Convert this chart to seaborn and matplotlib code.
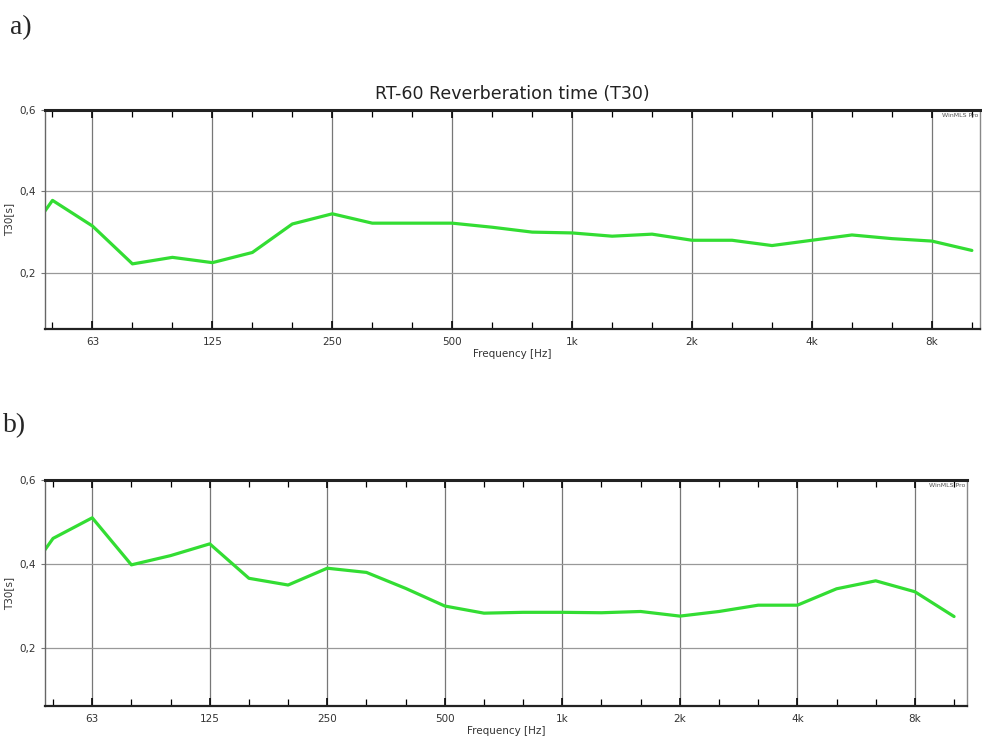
import numpy as np
import pandas as pd
import matplotlib
matplotlib.use("Agg")
import matplotlib.pyplot as plt
import matplotlib.ticker as mticker
import seaborn as sns

# third-octave bands, 40 Hz .. 10 kHz
band_labels = ["40", "50", "63", "80", "100", "125", "160", "200", "250", "315",
               "400", "500", "630", "800", "1k", "1.25k", "1.6k", "2k", "2.5k",
               "3.15k", "4k", "5k", "6.3k", "8k", "10k"]
band_index = list(range(-14, 11))  # band number relative to 1 kHz

# T30 [s]
t30_a = [0.24, 0.378, 0.315, 0.222, 0.238, 0.225, 0.25, 0.32, 0.345, 0.322,
         0.322, 0.322, 0.312, 0.300, 0.298, 0.290, 0.295, 0.280, 0.280,
         0.267, 0.280, 0.293, 0.284, 0.278, 0.255]
t30_b = [0.33, 0.461, 0.51, 0.398, 0.42, 0.448, 0.366, 0.35, 0.39, 0.38,
         0.342, 0.30, 0.283, 0.285, 0.285, 0.284, 0.287, 0.276, 0.287,
         0.302, 0.302, 0.341, 0.36, 0.334, 0.275]

octave_labels = ["63", "125", "250", "500", "1k", "2k", "4k", "8k"]
octave_index = [-12, -9, -6, -3, 0, 3, 6, 9]

freqs = [1000 * 10 ** (n / 10) for n in band_index]
octave_freqs = [1000 * 10 ** (n / 10) for n in octave_index]

df_a = pd.DataFrame({"freq": freqs, "t30": t30_a})
df_b = pd.DataFrame({"freq": freqs, "t30": t30_b})

sns.set_style("white")
plt.rcParams["font.family"] = ["DejaVu Sans"]

fig = plt.figure(figsize=(9.82, 7.46), dpi=100)
ax_a = fig.add_axes([45 / 982, 1 - 329 / 746, 935 / 982, 219 / 746])
ax_b = fig.add_axes([45 / 982, 1 - 706 / 746, 922 / 982, 226 / 746])

green = "#33dd33"


def style_axes(ax, df, xlim, ylabel):
    sns.lineplot(data=df, x="freq", y="t30", ax=ax, color=green, linewidth=2.3)
    ax.set_xscale("log")
    ax.set_xlim(*xlim)
    ax.set_ylim(0.062, 0.6)
    ax.set_xticks(octave_freqs)
    ax.set_xticklabels(octave_labels)
    ax.xaxis.set_minor_locator(mticker.FixedLocator(freqs))
    ax.xaxis.set_minor_formatter(mticker.NullFormatter())
    ax.set_yticks([0.2, 0.4, 0.6])
    ax.set_yticklabels(["0,2", "0,4", "0,6"])
    ax.tick_params(axis="x", which="both", direction="in", top=True, bottom=True,
                   labelsize=7.5, color="black", pad=6, labelcolor="#333333")
    ax.tick_params(axis="x", which="major", length=6, width=1.2)
    ax.tick_params(axis="x", which="minor", length=5, width=0.9)
    ax.tick_params(axis="y", which="major", direction="out", left=True,
                   length=3, labelsize=7.5, color="#777777", labelcolor="#333333")
    for f in octave_freqs:
        ax.axvline(f, color="#777777", linewidth=0.9, zorder=0)
    for v in [0.2, 0.4]:
        ax.axhline(v, color="#999999", linewidth=0.9, zorder=0)
    ax.spines["top"].set_linewidth(2.2)
    ax.spines["top"].set_color("#222222")
    ax.spines["bottom"].set_linewidth(1.6)
    ax.spines["bottom"].set_color("#222222")
    ax.spines["left"].set_linewidth(1.0)
    ax.spines["left"].set_color("#666666")
    ax.spines["right"].set_linewidth(1.0)
    ax.spines["right"].set_color("#888888")
    ax.set_xlabel("Frequency [Hz]", fontsize=7.5, labelpad=1, color="#333333")
    ax.set_ylabel(ylabel, fontsize=7.5, labelpad=4, color="#333333")
    ax.text(0.998, 0.985, "WinMLS Pro", transform=ax.transAxes, ha="right",
            va="top", fontsize=4.5, color="#555555")


style_axes(ax_a, df_a, (48.0, 10480), "T30[s]")
style_axes(ax_b, df_b, (47.8, 10790), "T30[s]")

ax_a.set_title("RT-60 Reverberation time (T30)", fontsize=12.5, pad=8, color="#222222")

fig.text(10 / 982, 1 - 34 / 746, "a)", fontsize=20, family="Liberation Serif")
fig.text(3 / 982, 1 - 432 / 746, "b)", fontsize=20, family="Liberation Serif")

fig.savefig("out.png", dpi=100)
